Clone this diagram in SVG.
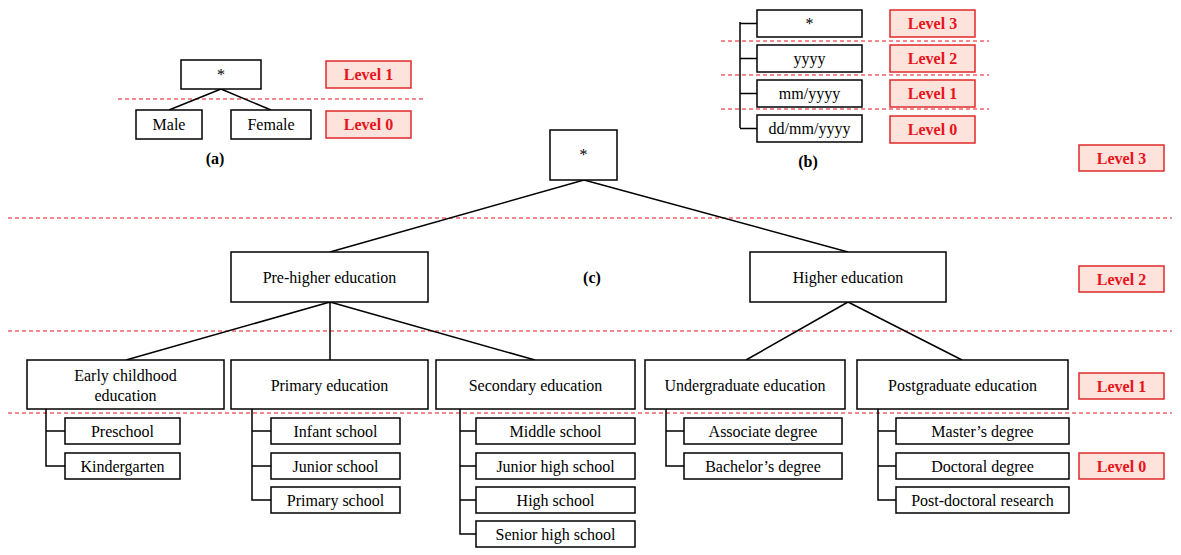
<svg xmlns="http://www.w3.org/2000/svg" width="1181" height="555" viewBox="0 0 1181 555">
<style>
.b{fill:#fff;stroke:#000;stroke-width:1.5}
.t{font-family:"Liberation Serif",serif;font-size:16px;text-anchor:middle;fill:#000}
.lv rect{fill:#fde3db;stroke:#e02a2a;stroke-width:1.5}
.lv text{font-family:"Liberation Serif",serif;font-size:16px;font-weight:bold;text-anchor:middle;fill:#e8141c}
.d{stroke:#e8141c;stroke-width:1.2;stroke-dasharray:4,3;fill:none}
.c{stroke:#000;stroke-width:1.5;fill:none}
.cap{font-family:"Liberation Serif",serif;font-size:16px;font-weight:bold;text-anchor:middle}
</style>
<rect width="1181" height="555" fill="#fff"/>
<g id="dashes">
<line class="d" x1="118" y1="99" x2="423" y2="99"/>
<line class="d" x1="721" y1="41" x2="989" y2="41"/>
<line class="d" x1="721" y1="75" x2="989" y2="75"/>
<line class="d" x1="721" y1="109" x2="989" y2="109"/>
<line class="d" x1="8" y1="218" x2="1172" y2="218"/>
<line class="d" x1="8" y1="331" x2="1172" y2="331"/>
<line class="d" x1="8" y1="413" x2="1172" y2="413"/>
</g>
<g id="connectors">
<path class="c" d="M221,89 L169,110 M221,89 L271,110"/>
<path class="c" d="M740,22 V128 M740,23.5 H757 M740,58.5 H757 M740,93.5 H757 M740,128.5 H757"/>
<path class="c" d="M584,180 L330,252 M584,180 L848,252"/>
<path class="c" d="M330,302 L126,360 M330,302 L330,360 M330,302 L535,360"/>
<path class="c" d="M848,302 L746,360 M848,302 L962,360"/>
<path class="c" d="M46,409 V466 H65 M46,431 H65"/>
<path class="c" d="M252,409 V500 H271 M252,431 H271 M252,466 H271"/>
<path class="c" d="M460,409 V534 H476 M460,431 H476 M460,466 H476 M460,500 H476"/>
<path class="c" d="M666,409 V466 H684 M666,431 H684"/>
<path class="c" d="M878,409 V500 H896 M878,431 H896 M878,466 H896"/>
</g>
<g id="a-root"><rect class="b" x="181" y="60" width="80" height="29"/><text class="t" x="221" y="80">*</text></g>
<g id="a-male"><rect class="b" x="136" y="110" width="66" height="29"/><text class="t" x="169" y="130">Male</text></g>
<g id="a-female"><rect class="b" x="231" y="110" width="80" height="29"/><text class="t" x="271" y="130">Female</text></g>
<g id="a-l1" class="lv"><rect x="326" y="61" width="85" height="27"/><text x="368.5" y="80">Level 1</text></g>
<g id="a-l0" class="lv"><rect x="326" y="111" width="85" height="27"/><text x="368.5" y="130">Level 0</text></g>
<text class="cap" x="215" y="164">(a)</text>

<g id="b-root"><rect class="b" x="757" y="10" width="105" height="27"/><text class="t" x="809.5" y="29">*</text></g>
<g id="b-yyyy"><rect class="b" x="757" y="45" width="105" height="27"/><text class="t" x="809.5" y="64">yyyy</text></g>
<g id="b-mm"><rect class="b" x="757" y="80" width="105" height="27"/><text class="t" x="809.5" y="99">mm/yyyy</text></g>
<g id="b-dd"><rect class="b" x="757" y="115" width="105" height="27"/><text class="t" x="809.5" y="134">dd/mm/yyyy</text></g>
<g id="b-l3" class="lv"><rect x="890" y="10" width="85" height="27"/><text x="932.5" y="29">Level 3</text></g>
<g id="b-l2" class="lv"><rect x="890" y="45" width="85" height="27"/><text x="932.5" y="64">Level 2</text></g>
<g id="b-l1" class="lv"><rect x="890" y="80" width="85" height="27"/><text x="932.5" y="99">Level 1</text></g>
<g id="b-l0" class="lv"><rect x="890" y="116" width="85" height="27"/><text x="932.5" y="135">Level 0</text></g>
<text class="cap" x="808" y="167">(b)</text>

<g id="c-root"><rect class="b" x="550" y="130" width="67" height="50"/><text class="t" x="583.5" y="160">*</text></g>
<g id="c-pre"><rect class="b" x="231" y="252" width="197" height="50"/><text class="t" x="329.5" y="283">Pre-higher education</text></g>
<g id="c-higher"><rect class="b" x="750" y="252" width="196" height="50"/><text class="t" x="848" y="283">Higher education</text></g>
<text class="cap" x="592" y="283">(c)</text>
<g id="c-early"><rect class="b" x="27" y="360" width="197" height="49"/><text class="t" x="125.5" y="381">Early childhood</text><text class="t" x="125.5" y="401">education</text></g>
<g id="c-primary"><rect class="b" x="231" y="360" width="197" height="49"/><text class="t" x="329.5" y="391">Primary education</text></g>
<g id="c-secondary"><rect class="b" x="436" y="360" width="199" height="49"/><text class="t" x="535.5" y="391">Secondary education</text></g>
<g id="c-under"><rect class="b" x="645" y="360" width="200" height="49"/><text class="t" x="745" y="391">Undergraduate education</text></g>
<g id="c-post"><rect class="b" x="857" y="360" width="211" height="49"/><text class="t" x="962.5" y="391">Postgraduate education</text></g>
<g id="c-preschool"><rect class="b" x="65" y="418" width="115" height="26"/><text class="t" x="122.5" y="437">Preschool</text></g>
<g id="c-kinder"><rect class="b" x="65" y="453" width="115" height="26"/><text class="t" x="122.5" y="472">Kindergarten</text></g>
<g id="c-infant"><rect class="b" x="271" y="418" width="129" height="26"/><text class="t" x="335.5" y="437">Infant school</text></g>
<g id="c-junior"><rect class="b" x="271" y="453" width="129" height="26"/><text class="t" x="335.5" y="472">Junior school</text></g>
<g id="c-primsch"><rect class="b" x="271" y="487" width="129" height="26"/><text class="t" x="335.5" y="506">Primary school</text></g>
<g id="c-middle"><rect class="b" x="476" y="418" width="159" height="26"/><text class="t" x="555.5" y="437">Middle school</text></g>
<g id="c-jhs"><rect class="b" x="476" y="453" width="159" height="26"/><text class="t" x="555.5" y="472">Junior high school</text></g>
<g id="c-hs"><rect class="b" x="476" y="487" width="159" height="26"/><text class="t" x="555.5" y="506">High school</text></g>
<g id="c-shs"><rect class="b" x="476" y="521" width="159" height="26"/><text class="t" x="555.5" y="540">Senior high school</text></g>
<g id="c-assoc"><rect class="b" x="684" y="418" width="158" height="26"/><text class="t" x="763" y="437">Associate degree</text></g>
<g id="c-bach"><rect class="b" x="684" y="453" width="158" height="26"/><text class="t" x="763" y="472">Bachelor’s degree</text></g>
<g id="c-master"><rect class="b" x="896" y="418" width="173" height="26"/><text class="t" x="982.5" y="437">Master’s degree</text></g>
<g id="c-doct"><rect class="b" x="896" y="453" width="173" height="26"/><text class="t" x="982.5" y="472">Doctoral degree</text></g>
<g id="c-postdoc"><rect class="b" x="896" y="487" width="173" height="26"/><text class="t" x="982.5" y="506">Post-doctoral research</text></g>
<g id="c-l3" class="lv"><rect x="1079" y="145" width="85" height="26"/><text x="1121.5" y="164">Level 3</text></g>
<g id="c-l2" class="lv"><rect x="1079" y="266" width="85" height="26"/><text x="1121.5" y="285">Level 2</text></g>
<g id="c-l1" class="lv"><rect x="1079" y="373" width="85" height="26"/><text x="1121.5" y="392">Level 1</text></g>
<g id="c-l0" class="lv"><rect x="1079" y="453" width="85" height="26"/><text x="1121.5" y="472">Level 0</text></g>
</svg>
